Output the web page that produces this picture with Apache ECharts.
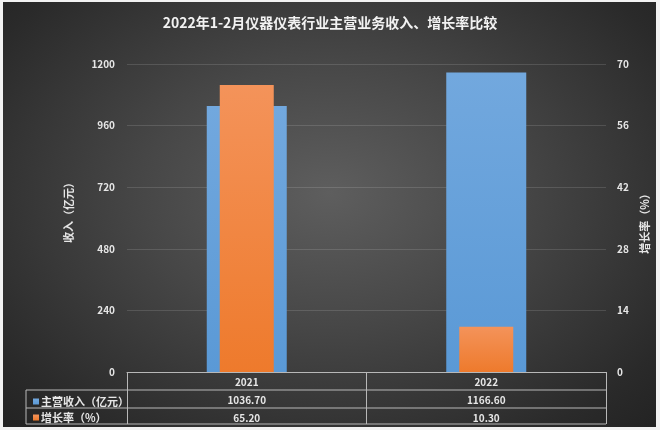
<!DOCTYPE html>
<html><head><meta charset="utf-8">
<script src="https://cdn.jsdelivr.net/npm/echarts@6/dist/echarts.min.js"></script>
<style>
html,body{margin:0;padding:0;background:#f2f2f2;}
#bg{position:absolute;left:3px;top:2px;width:653px;height:425px;
background:radial-gradient(ellipse at 50% 45%, #5e5e5e 0%, #474747 40%, #2a2a2a 85%, #232323 100%);}
#c{position:absolute;left:0;top:0;width:660px;height:430px;}
</style></head>
<body><div id="bg"></div><div id="c"></div>
<script>
const title = '2022年1-2月仪器仪表行业主营业务收入、增长率比较';
const categories = ['2021', '2022'];
const revenueName = '主营收入（亿元）';
const growthName = '增长率（%）';
const revenue = [1036.70, 1166.60];
const growth = [65.20, 10.30];
const leftAxisName = '收入（亿元）';
const rightAxisName = '增长率（%）';

const chart = echarts.init(document.getElementById('c'));
const txt = '#e6e6e6';
const font = '"Noto Sans CJK SC", "Noto Sans", sans-serif';
const lineCol = '#b8b8b8';
chart.setOption({
  backgroundColor: 'transparent',
  animation: false,
  textStyle: {fontFamily: font},
  title: {text: title, left: 'center', top: 11,
    textStyle: {color: '#f2f2f2', fontSize: 14, fontWeight: 'bold', fontFamily: font}},
  legend: {
    orient: 'vertical', left: 28, top: 391, itemGap: 5, itemWidth: 6, itemHeight: 6,
    icon: 'rect', textStyle: {color: txt, fontSize: 11, fontWeight: 'bold', padding: [0,0,0,-3]},
    data: [revenueName, growthName]
  },
  grid: {left: 127, right: 54, top: 64, bottom: 58},
  xAxis: [{
    type: 'category', data: categories,
    axisLine: {show: true, lineStyle: {color: lineCol, width: 1}},
    axisTick: {show: true, length: 52, interval: 0, lineStyle: {color: lineCol, width: 1}},
    axisLabel: {
      margin: 1, interval: 0,
      formatter: (v, i) => `{y|${v}}\n{v|${revenue[i].toFixed(2)}}\n{v|${growth[i].toFixed(2)}}`,
      rich: {
        y: {color: txt, fontSize: 10, lineHeight: 18, fontWeight: 'bold', fontFamily: font},
        v: {color: txt, fontSize: 10, lineHeight: 18, fontWeight: 'bold', fontFamily: font}
      }
    }
  }, {
    type: 'category', data: categories, show: false
  }],
  yAxis: [{
    type: 'value', min: 0, max: 1200, interval: 240,
    name: leftAxisName, nameLocation: 'middle', nameRotate: 90, nameGap: 53,
    nameTextStyle: {color: txt, fontSize: 11, fontWeight: 'bold', padding: [0,0,0,16]},
    axisLabel: {color: txt, fontSize: 10, margin: 12, fontWeight: 'bold', formatter: v => String(v)},
    axisLine: {show: false}, axisTick: {show: false},
    splitLine: {lineStyle: {color: 'rgba(255,255,255,0.13)', width: 1}}
  }, {
    type: 'value', min: 0, max: 70, interval: 14, position: 'right',
    name: rightAxisName, nameLocation: 'middle', nameRotate: 90, nameGap: 30,
    nameTextStyle: {color: txt, fontSize: 11, fontWeight: 'bold', padding: [0,6,0,0]},
    axisLabel: {color: txt, fontSize: 10, margin: 11, fontWeight: 'bold', formatter: v => String(v)},
    axisLine: {show: false}, axisTick: {show: false},
    splitLine: {show: false}
  }],
  series: [{
    name: revenueName, type: 'bar', xAxisIndex: 0, yAxisIndex: 0, data: revenue,
    barWidth: 80, z: 2,
    itemStyle: {color: new echarts.graphic.LinearGradient(0,0,0,1,[
      {offset:0,color:'#72a8de'},{offset:1,color:'#5a99d6'}])}
  }, {
    name: growthName, type: 'bar', xAxisIndex: 1, yAxisIndex: 1, data: growth,
    barWidth: 54, z: 3,
    itemStyle: {color: new echarts.graphic.LinearGradient(0,0,0,1,[
      {offset:0,color:'#f4935a'},{offset:1,color:'#ee7a2c'}])}
  }],
  graphic: [
    {type: 'line', shape: {x1: 26, y1: 390, x2: 606, y2: 390}, style: {stroke: lineCol, lineWidth: 1}},
    {type: 'line', shape: {x1: 26, y1: 408, x2: 606, y2: 408}, style: {stroke: lineCol, lineWidth: 1}},
    {type: 'line', shape: {x1: 26, y1: 424, x2: 606, y2: 424}, style: {stroke: lineCol, lineWidth: 1}},
    {type: 'line', shape: {x1: 26, y1: 390, x2: 26, y2: 424}, style: {stroke: lineCol, lineWidth: 1}}
  ]
});
</script></body></html>
